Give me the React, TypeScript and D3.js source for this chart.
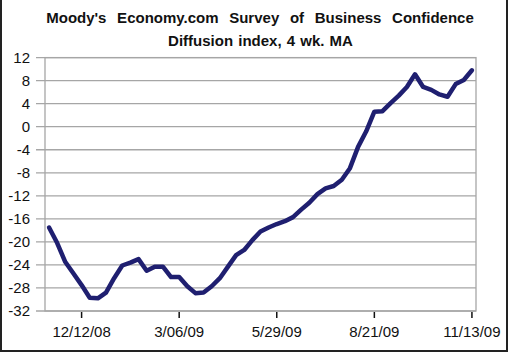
import React from "react";
import * as d3 from "d3";

// weekly survey readings, 11/14/08 .. 11/13/09
const values = [
  -17.5, -20.2, -23.5, -25.5, -27.5, -29.7, -29.8, -28.8, -26.3, -24.1,
  -23.6, -23.0, -25.0, -24.3, -24.3, -26.1, -26.1, -27.7, -28.9, -28.8,
  -27.7, -26.3, -24.3, -22.3, -21.4, -19.7, -18.2, -17.5, -16.9, -16.4,
  -15.7, -14.4, -13.2, -11.7, -10.7, -10.3, -9.2, -7.2, -3.5, -0.8,
  2.6, 2.7, 4.1, 5.4, 6.9, 9.1, 6.9, 6.4, 5.6, 5.2,
  7.4, 8.1, 9.8,
];

const yTicks = [12, 8, 4, 0, -4, -8, -12, -16, -20, -24, -28, -32];
const tickIndex = [4, 16, 28, 40, 52];
const tickLabels = ["12/12/08", "3/06/09", "5/29/09", "8/21/09", "11/13/09"];

const titleLines = [
  "Moody's Economy.com Survey of Business Confidence",
  "Diffusion index, 4 wk. MA",
];

export default function App() {
  const width = 510;
  const height = 353;
  const plot = { left: 45, right: 476, top: 57.6, bottom: 311 };

  const x = d3
    .scaleBand<number>()
    .domain(d3.range(values.length))
    .range([plot.left, plot.right]);
  const cx = (i: number) => (x(i) as number) + x.bandwidth() / 2;

  const y = d3.scaleLinear().domain([-32, 12]).range([plot.bottom, plot.top]);

  const line = d3
    .line<number>()
    .x((_, i) => cx(i))
    .y((d) => y(d));

  const font = "Arial, 'Liberation Sans', sans-serif";

  return (
    <svg
      width={width}
      height={height}
      style={{ position: "absolute", left: 0, top: 0, background: "#fff" }}
    >
      <rect x={0} y={0} width={width} height={height} fill="#fff" />

      {/* title */}
      <g fontFamily={font} fontWeight="bold" fontSize={15} fill="#111" textAnchor="middle">
        <text x={260} y={22.5} wordSpacing={6.5}>{titleLines[0]}</text>
        <text x={260.5} y={45.5} wordSpacing={1}>{titleLines[1]}</text>
      </g>

      {/* gridlines + y ticks */}
      {yTicks.map((t) => (
        <g key={t}>
          <line
            x1={plot.left - 9}
            x2={plot.right}
            y1={y(t)}
            y2={y(t)}
            stroke="#a6a6a6"
            strokeWidth={1.3}
          />
          <text
            x={30}
            y={y(t)}
            dy="0.36em"
            textAnchor="end"
            fontFamily={font}
            fontSize={15}
            fill="#111"
          >
            {t}
          </text>
        </g>
      ))}

      {/* plot border */}
      <rect
        x={plot.left}
        y={plot.top}
        width={plot.right - plot.left}
        height={plot.bottom - plot.top}
        fill="none"
        stroke="#a6a6a6"
        strokeWidth={1.3}
      />

      {/* x ticks */}
      {tickIndex.map((idx, k) => (
        <g key={idx}>
          <line
            x1={cx(idx)}
            x2={cx(idx)}
            y1={plot.bottom + 1}
            y2={plot.bottom + 7}
            stroke="#111"
            strokeWidth={1.5}
          />
          <text
            x={cx(idx)}
            y={337}
            textAnchor="middle"
            fontFamily={font}
            fontSize={15}
            fill="#111"
          >
            {tickLabels[k]}
          </text>
        </g>
      ))}

      <path
        d={line(values) ?? ""}
        fill="none"
        stroke="#1f1f70"
        strokeWidth={4.5}
        strokeLinejoin="round"
        strokeLinecap="round"
      />

      {/* outer frame */}
      <line x1={1} x2={1} y1={0} y2={351} stroke="#222" strokeWidth={2} />
      <line x1={0} x2={508} y1={351} y2={351} stroke="#222" strokeWidth={2} />
      <line x1={507} x2={507} y1={0} y2={352} stroke="#222" strokeWidth={2} />
    </svg>
  );
}
